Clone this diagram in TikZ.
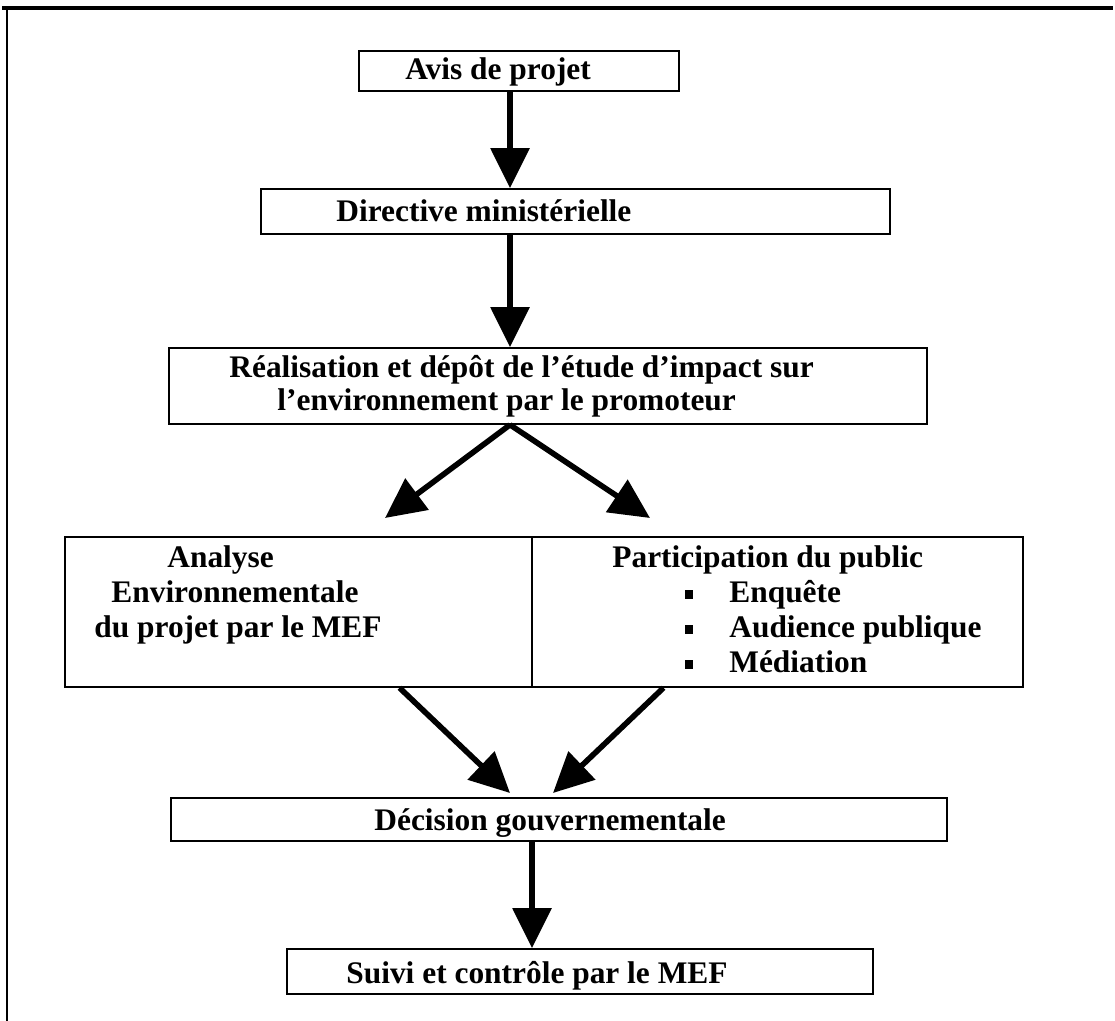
\documentclass[tikz,border=0pt]{standalone}
\usepackage{fontspec}
\setmainfont{Liberation Serif}
\usetikzlibrary{arrows.meta,calc}
\tikzstyle{boite}=[draw,line width=0.8pt,rectangle,inner sep=0pt]
\tikzstyle{texte}=[font=\bfseries\fontsize{15.7}{17}\selectfont,inner sep=0pt,anchor=base west]
\tikzstyle{fleche}=[line width=2.8pt,-{Triangle[length=20pt,width=19pt]}]

\begin{document}
\begin{tikzpicture}[x=0.5pt,y=-0.5pt]
		\useasboundingbox (0,0) rectangle (1115,1021);
		% cadre
		\draw[line width=1.6pt] (2,8) -- (1113,8);
		\draw[line width=1.1pt] (7,8) -- (7,1021);

		% boites
		\node[boite,minimum width=160pt,minimum height=20pt] (avis) at (519,71) {};
		\node[boite,minimum width=314.5pt,minimum height=22.5pt] (directive) at (575.5,211.5) {};
		\node[boite,minimum width=379pt,minimum height=38pt] (realisation) at (548,386) {};
		\node[boite,minimum width=233.5pt,minimum height=75pt] (analyse) at (298.5,612) {};
		\node[boite,minimum width=245.5pt,minimum height=75pt] (participation) at (777.5,612) {};
		\node[boite,minimum width=388pt,minimum height=21.5pt] (decision) at (559,819.5) {};
		\node[boite,minimum width=293pt,minimum height=22.5pt] (suivi) at (580,971.5) {};

		% textes
		\node[texte] (t-avis) at (405,80) {Avis de projet};
		\node[texte] (t-directive) at (336,222) {Directive ministérielle};
		\node[texte] (t-real1) at (229,378) {Réalisation et dépôt de l’étude d’impact sur};
		\node[texte] (t-real2) at (277,411) {l’environnement par le promoteur};
		\node[texte] (t-ana1) at (167,568) {Analyse};
		\node[texte] (t-ana2) at (111,603) {Environnementale};
		\node[texte] (t-ana3) at (94,638) {du projet par le MEF};
		\node[texte] (t-part) at (612,568) {Participation du public};
		\foreach \y/\t in {603/Enquête,638/Audience publique,673/Médiation} {
			\node[texte] (t-\y) at (729,\y) {\t};
			\fill (685,\y-4) rectangle +(8,-9);
		}
		\node[texte] (t-decision) at (374,830) {Décision gouvernementale};
		\node[texte] (t-suivi) at (346,983) {Suivi et contrôle par le MEF};

		% fleches
		\coordinate (axe) at (510,0);
		\coordinate (axe2) at (532,0);
		\coordinate (pg) at (385,518);
		\coordinate (pd) at (650,518);
		\coordinate (cg) at (510,793);
		\coordinate (cd) at (553,793);
		\draw[fleche] (avis.south -| axe) -- (directive.north -| axe);
		\draw[fleche] (directive.south -| axe) -- (realisation.north -| axe);
		\draw[fleche] (realisation.south -| axe) -- (pg);
		\draw[fleche] (realisation.south -| axe) -- (pd);
		\draw[fleche] ($(analyse.south)+(101,0)$) -- (cg);
		\draw[fleche] ($(participation.south)+(-114,0)$) -- (cd);
		\draw[fleche] (decision.south -| axe2) -- (suivi.north -| axe2);
	\end{tikzpicture}
\end{document}
